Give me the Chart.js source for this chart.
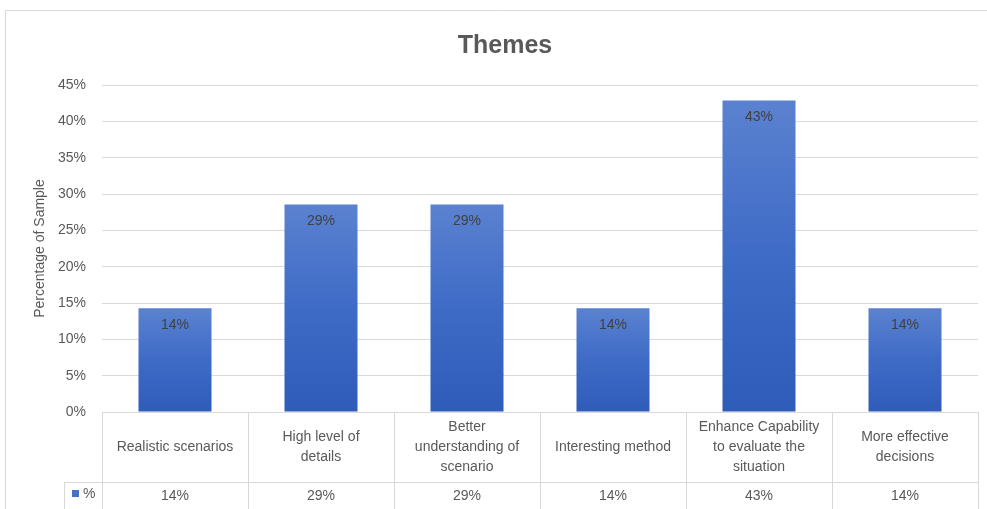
<!DOCTYPE html>
<html>
<head>
<meta charset="utf-8">
<script src="https://cdn.jsdelivr.net/npm/chart.js@4"></script>
<style>
  html, body { margin: 0; padding: 0; background: #fff; }
  #wrap { position: relative; width: 987px; height: 509px; }
</style>
</head>
<body>
<div id="wrap"><canvas id="grafico" width="987" height="509"></canvas></div>
<script>
// dados do grafico
const categorias = [
    ['Realistic scenarios'],
    ['High level of', 'details'],
    ['Better', 'understanding of', 'scenario'],
    ['Interesting method'],
    ['Enhance Capability', 'to evaluate the', 'situation'],
    ['More effective', 'decisions']
];
const valores = [14.29, 28.57, 28.57, 14.29, 42.86, 14.29];
const rotulos = ['14%', '29%', '29%', '14%', '43%', '14%'];
const nomeSerie = '%';

const fonte = '"Liberation Sans", Arial, sans-serif';
const corTexto = '#595959';
const corLinha = '#d9d9d9';

// borda do grafico + tabela de dados + rotulos nas barras
const tabelaPlugin = {
    id: 'tabela',
    beforeDraw(chart) {
        const c = chart.ctx;
        c.save();
        c.strokeStyle = corLinha;
        c.lineWidth = 1;
        c.beginPath();
        c.moveTo(5.5, 509);
        c.lineTo(5.5, 10.5);
        c.lineTo(987, 10.5);
        c.stroke();
        c.restore();
    },
    afterDraw(chart) {
        const c = chart.ctx;
        const x = chart.scales.x;
        const area = chart.chartArea;
        const topo = area.bottom;
        const meio = topo + 70;
        const fim = 509;
        const largura = (area.right - area.left) / categorias.length;

        c.save();
        c.strokeStyle = corLinha;
        c.lineWidth = 1;
        c.beginPath();
        // linhas horizontais
        c.moveTo(area.left, topo + 0.5);
        c.lineTo(area.right, topo + 0.5);
        c.moveTo(64, meio + 0.5);
        c.lineTo(area.right, meio + 0.5);
        c.moveTo(64.5, meio);
        c.lineTo(64.5, fim);
        for (let i = 0; i <= categorias.length; i++) {
            const px = Math.round(area.left + i * largura) + 0.5;
            c.moveTo(px, topo);
            c.lineTo(px, fim);
        }
        c.stroke();

        // textos da tabela
        c.fillStyle = corTexto;
        c.font = '14px ' + fonte;
        c.textAlign = 'center';
        c.textBaseline = 'middle';
        categorias.forEach((linhas, i) => {
            const cx = x.getPixelForValue(i);
            const alt = 20;
            const y0 = (topo + meio) / 2 - (linhas.length - 1) * alt / 2;
            linhas.forEach((t, j) => c.fillText(t, cx, y0 + j * alt));
            c.fillText(rotulos[i], cx, (meio + fim) / 2 + 1);
        });

        // legenda da serie
        c.fillStyle = '#4472c4';
        c.fillRect(72, 490, 7, 7);
        c.fillStyle = corTexto;
        c.textAlign = 'left';
        c.fillText(nomeSerie, 83, 494);

        // rotulos dentro das barras
        const meta = chart.getDatasetMeta(0);
        c.fillStyle = '#404040';
        c.textAlign = 'center';
        meta.data.forEach((barra, i) => {
            c.fillText(rotulos[i], barra.x, barra.y + 17);
        });
        c.restore();
    }
};

const ctx = document.getElementById('grafico').getContext('2d');
const chart = new Chart(ctx, {
    type: 'bar',
    data: {
        labels: categorias,
        datasets: [{
            label: nomeSerie,
            data: valores,
            backgroundColor: (context) => {
                const ch = context.chart;
                const area = ch.chartArea;
                if (!area) return '#4472c4';
                const yTop = ch.scales.y.getPixelForValue(context.raw);
                const g = ch.ctx.createLinearGradient(0, yTop, 0, area.bottom);
                g.addColorStop(0, '#5b82d0');
                g.addColorStop(0.5, '#3e6bc6');
                g.addColorStop(1, '#2f5cb8');
                return g;
            },
            borderWidth: 0,
            barPercentage: 0.5,
            categoryPercentage: 1.0
        }]
    },
    options: {
        responsive: false,
        animation: false,
        layout: {
            padding: { left: 32, right: 9, top: 31, bottom: 97 }
        },
        plugins: {
            legend: { display: false },
            tooltip: { enabled: false },
            title: {
                display: true,
                text: 'Themes',
                color: corTexto,
                font: { family: fonte, size: 25, weight: 'bold' },
                padding: { top: 0, bottom: 24 }
            }
        },
        scales: {
            x: {
                display: false
            },
            y: {
                min: 0,
                max: 45,
                afterFit: (scale) => { scale.width = 70; },
                ticks: {
                    stepSize: 5,
                    color: corTexto,
                    padding: 16,
                    font: { family: fonte, size: 14 },
                    callback: (v) => v + '%'
                },
                grid: {
                    color: corLinha,
                    drawTicks: false
                },
                border: { display: false },
                title: {
                    display: true,
                    text: 'Percentage of Sample',
                    color: corTexto,
                    font: { family: fonte, size: 14 },
                    padding: 0
                }
            }
        }
    },
    plugins: [tabelaPlugin]
});
</script>
</body>
</html>
